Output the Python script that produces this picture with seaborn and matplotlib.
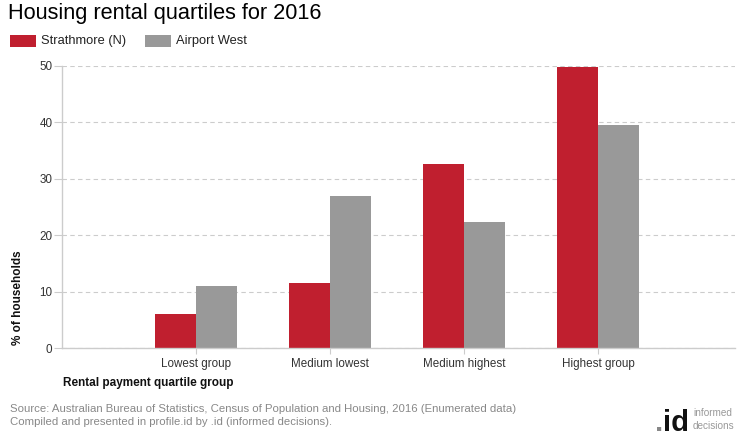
import matplotlib
matplotlib.use("Agg")
import matplotlib.pyplot as plt
import seaborn as sns
import pandas as pd
from matplotlib.patches import Rectangle

categories = ["Lowest group", "Medium lowest", "Medium highest", "Highest group"]
series_names = ["Strathmore (N)", "Airport West"]
strathmore = [6.0, 11.5, 32.7, 49.9]
airport_west = [11.0, 27.0, 22.4, 39.6]
y_ticks = [0, 10, 20, 30, 40, 50]
colors = ["#C01F2F", "#999999"]

df = pd.DataFrame({
    "category": categories * 2,
    "series": [series_names[0]] * 4 + [series_names[1]] * 4,
    "value": strathmore + airport_west,
})

sns.set_style("white")
plt.rcParams["font.family"] = ["Liberation Sans", "DejaVu Sans"]

fig = plt.figure(figsize=(7.4, 4.4), dpi=100)
ax = fig.add_axes([62 / 740, 1 - 348 / 440, (735 - 62) / 740, (348 - 66) / 440])

sns.barplot(data=df, x="category", y="value", hue="series", order=categories,
            hue_order=series_names, palette=colors, width=0.61, gap=0,
            saturation=1, ax=ax, legend=False, errorbar=None, linewidth=0)

ax.set_xlim(-1, 4.02)
ax.set_ylim(0, 50)
ax.set_yticks(y_ticks)
ax.set_yticklabels([str(t) for t in y_ticks])
ax.set_xlabel("")
ax.set_ylabel("")

for side in ["top", "right"]:
    ax.spines[side].set_visible(False)
for side in ["left", "bottom"]:
    ax.spines[side].set_color("#cccccc")
    ax.spines[side].set_linewidth(1)

ax.yaxis.grid(True, linestyle=(0, (4, 3)), color="#cccccc", linewidth=0.8)
ax.set_axisbelow(True)
ax.tick_params(axis="y", length=6, color="#cccccc", labelsize=8.4, labelcolor="#333333", pad=1)
ax.tick_params(axis="x", length=4, color="#cccccc", labelsize=8.4, labelcolor="#333333", pad=3)
ax.tick_params(axis="both", which="both", bottom=True, left=True)

# Title
fig.text(8 / 740, 1 - 14 / 440, "Housing rental quartiles for 2016", fontsize=15.7,
         color="#000000", va="center", ha="left")

# Legend
leg_y = 41
for i, (name, c, x0, tx) in enumerate(zip(series_names, colors, [10, 145], [41, 176])):
    fig.patches.append(Rectangle((x0 / 740, 1 - (leg_y + 6) / 440), 26 / 740, 12 / 440,
                                 transform=fig.transFigure, facecolor=c, edgecolor="none"))
    fig.text(tx / 740, 1 - leg_y / 440, name, fontsize=9.3, color="#222222",
             va="center", ha="left")

# Axis titles
fig.text(18 / 740, 1 - 345 / 440, "% of households", rotation=90, fontsize=8.5,
         fontweight="bold", va="bottom", ha="center", color="#111111")
fig.text(63 / 740, 1 - 383 / 440, "Rental payment quartile group", fontsize=8.5,
         fontweight="bold", va="center", ha="left", color="#111111")

# Source
fig.text(10 / 740, 1 - 409 / 440,
         "Source: Australian Bureau of Statistics, Census of Population and Housing, 2016 (Enumerated data)",
         fontsize=8.2, color="#888888", va="center", ha="left")
fig.text(10 / 740, 1 - 422 / 440,
         "Compiled and presented in profile.id by .id (informed decisions).",
         fontsize=8.2, color="#888888", va="center", ha="left")

# Logo
fig.text(663 / 740, 1 - 431 / 440, ".", fontsize=21, fontweight="bold",
         color="#888888", va="baseline", ha="right")
fig.text(689 / 740, 1 - 431 / 440, "id", fontsize=21, fontweight="bold",
         color="#111111", va="baseline", ha="right")
fig.text(693 / 740, 1 - 413 / 440, "informed", fontsize=7.2, color="#999999",
         va="center", ha="left")
fig.text(693 / 740, 1 - 426 / 440, "decisions", fontsize=7.2, color="#999999",
         va="center", ha="left")

fig.savefig("out.png", dpi=100, facecolor="white")
